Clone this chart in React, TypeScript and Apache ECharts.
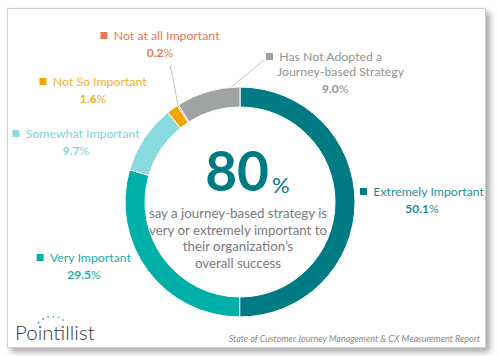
import React, { useEffect, useRef } from "react";
import * as echarts from "echarts";

const categories = [
  "Extremely Important",
  "Very Important",
  "Somewhat Important",
  "Not So Important",
  "Not at all Important",
  "Has Not Adopted a Journey-based Strategy",
];
const values = [50.1, 29.5, 9.7, 1.6, 0.2, 9.0];
const colors = ["#007b83", "#00b0a8", "#8adbe0", "#f0a800", "#e8774f", "#9fa3a3"];
const labelColors = ["#2a8d93", "#19aea7", "#80d4d9", "#f0b32a", "#e8784f", "#8f9494"];
const headline = "80";
const subText = [
  "say a journey-based strategy is",
  "very or extremely important to",
  "their organization\u2019s",
  "overall success",
];
const brand = "Pointillist";
const source = "State of Customer Journey Management & CX Measurement Report";

// label anchor positions (pixel), per category
const labelPos: { x: number; y: number; align: string }[] = [
  { x: 422, y: 184, align: "center" },
  { x: 84, y: 250, align: "center" },
  { x: 76, y: 126, align: "center" },
  { x: 93, y: 74, align: "center" },
  { x: 160, y: 28, align: "center" },
  { x: 266, y: 49, align: "left" },
];

export default function App() {
  const ref = useRef<HTMLDivElement>(null);
  useEffect(() => {
    if (!ref.current) return;
    const chart = echarts.init(ref.current, null, { renderer: "svg" });
    const font = "Lato, 'Open Sans', sans-serif";
    const total = values.reduce((a, b) => a + b, 0);
    const cx = 240;
    const cy = 202;
    const rOut = 115;
    // angle (clockwise from top, in degrees) at fraction f of slice i
    const angleAt = (i: number, f: number) => {
      let cum = 0;
      for (let k = 0; k < i; k++) cum += values[k];
      return ((cum + values[i] * f) / total) * 360;
    };
    const pt = (deg: number, r: number) => [
      cx + r * Math.sin((deg * Math.PI) / 180),
      cy - r * Math.cos((deg * Math.PI) / 180),
    ];

    const data = categories.map((name, i) => {
      const c = labelColors[i];
      const rich: any = {
        sq: { backgroundColor: colors[i], width: 7, height: 7, fontSize: 1, lineHeight: 7 },
        n: { color: c, fontSize: 12.3, fontFamily: font, lineHeight: 15 },
        v: { color: c, fontSize: 12, fontWeight: "bold", fontFamily: font, lineHeight: 19 },
        p: { color: c, fontSize: 12, fontFamily: font, lineHeight: 19 },
        ind: { width: 11, fontSize: 12, lineHeight: 15 },
        ind2: { width: 56, fontSize: 12, lineHeight: 19 },
      };
      let fmt: string;
      if (i === 5) {
        fmt =
          "{sq| }{n|  Has Not Adopted a}\n{ind| }{n|Journey-based Strategy}\n{ind2| }{v|" +
          values[i].toFixed(1) +
          "}{p|%}";
      } else {
        fmt = "{sq| }{n|  " + name + "}\n{v|" + values[i].toFixed(1) + "}{p|%}";
      }
      const showLine = i === 4 || i === 5;
      return {
        name,
        value: values[i],
        itemStyle: { color: colors[i] },
        label: { formatter: fmt, rich, align: labelPos[i].align },
        labelLine: {
          show: showLine,
          lineStyle: { color: "#c4c4c4", width: 1 },
        },
      };
    });

    const dots = [
      [38.5, 322.5], [43, 319], [48, 317], [53.5, 316.5], [58.5, 317.5], [63, 320],
    ];

    chart.setOption({
      animation: false,
      graphic: [
        {
          type: "rect",
          z: -10,
          shape: { x: 7.5, y: 8.5, width: 478, height: 339 },
          style: {
            fill: "#fff",
            stroke: "#cfcfcf",
            lineWidth: 1,
            shadowBlur: 6,
            shadowOffsetX: 4,
            shadowOffsetY: 4,
            shadowColor: "rgba(0,0,0,0.35)",
          },
        },
        {
          type: "text",
          x: 269,
          y: 170,
          style: {
            text: headline,
            fill: "#007b83",
            font: "bold 55px " + font,
            align: "right",
            verticalAlign: "middle",
          },
        },
        {
          type: "text",
          x: 272,
          y: 184,
          style: {
            text: "%",
            fill: "#007b83",
            font: "22px " + font,
            align: "left",
            verticalAlign: "middle",
          },
        },
        ...subText.map((t, k) => ({
          type: "text",
          x: 238,
          y: 213 + k * 16.5,
          style: {
            text: t,
            fill: "#7a7a7a",
            font: "13.3px " + font,
            align: "center",
            verticalAlign: "middle",
          },
        })),
        {
          type: "text",
          x: 15,
          y: 332,
          style: {
            text: brand,
            fill: "#3a3a3a",
            font: "300 20.5px " + font,
            align: "left",
            verticalAlign: "middle",
          },
        },
        ...dots.map((d, k) => ({
          type: "circle",
          shape: { cx: d[0], cy: d[1], r: 0.9 },
          style: { fill: k < 3 ? "#2ab3b1" : "#5fc6c9" },
        })),
        {
          type: "text",
          x: 480,
          y: 338,
          style: {
            text: source,
            fill: "#8a8a8a",
            font: "italic 9px " + font,
            align: "right",
            verticalAlign: "middle",
          },
        },
      ],
      series: [
        {
          type: "pie",
          center: [cx, cy],
          radius: [95, rOut],
          startAngle: 90,
          clockwise: true,
          avoidLabelOverlap: false,
          itemStyle: { borderColor: "#fff", borderWidth: 1 },
          label: { show: true, position: "outside" },
          labelLine: { length: 10, length2: 10 },
          labelLayout: (params: any) => {
            const i = params.dataIndex;
            const p = labelPos[i];
            const res: any = { x: p.x, y: p.y, align: p.align, verticalAlign: "top" };
            if (i === 4) {
              const s = pt(angleAt(4, 0.5), rOut);
              res.labelLinePoints = [s, [s[0] - 3.5, (s[1] + 65) / 2], [170, 65]];
            } else if (i === 5) {
              const s = pt(angleAt(5, 0.86), rOut);
              res.labelLinePoints = [s, [(s[0] + 264) / 2, (s[1] + 60) / 2], [264, 60]];
            }
            return res;
          },
          emphasis: { disabled: true },
          data,
        },
      ],
    });
    return () => chart.dispose();
  }, []);
  return (
    <div
      ref={ref}
      style={{ position: "fixed", left: 0, top: 0, width: 498, height: 356, background: "#fff" }}
    />
  );
}
